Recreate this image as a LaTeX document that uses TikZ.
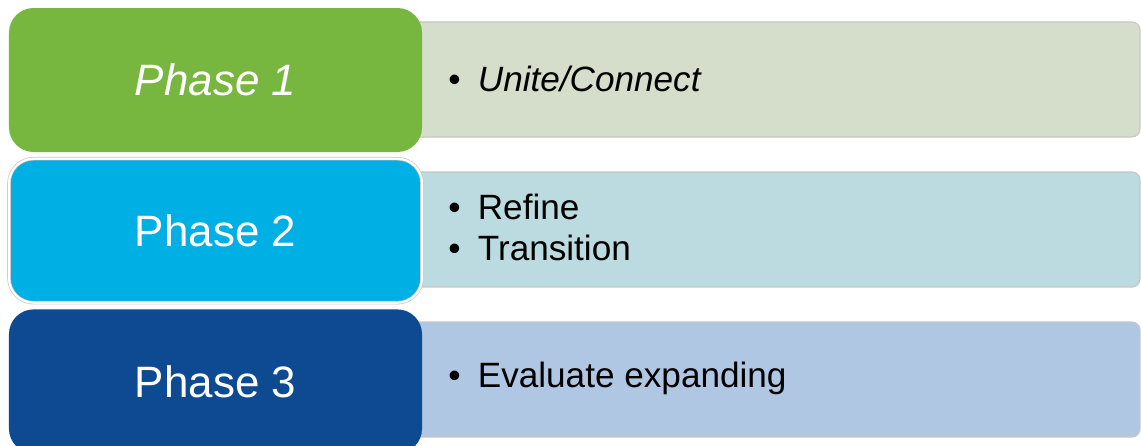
\documentclass[tikz,border=0pt]{standalone}
\usepackage{fontspec}
\setmainfont{Liberation Sans}
\usepackage{xcolor}
\usetikzlibrary{positioning}

\definecolor{phasegreen}{RGB}{120,183,63}
\definecolor{phaseblue}{RGB}{0,175,227}
\definecolor{phasenavy}{RGB}{13,74,145}
\definecolor{panelgreen}{RGB}{213,222,202}
\definecolor{panelteal}{RGB}{187,219,224}
\definecolor{panelblue}{RGB}{176,199,228}

\newcommand{\bul}{\makebox[0.84em][l]{\textbullet}}

\tikzset{
  phase/.style={rounded corners=14pt, minimum width=8.26cm, minimum height=2.88cm, inner sep=0pt, text=white, font=\fontsize{25}{30}\selectfont},
  panel/.style={rounded corners=4.5pt, draw=black!22, line width=0.6pt, minimum width=15.2cm, minimum height=2.3cm, inner sep=0pt},
  item/.style={anchor=west, align=left, inner sep=0pt, font=\fontsize{20}{23.3}\selectfont}
}

\begin{document}
\begin{tikzpicture}
  \useasboundingbox[fill=white] (0,0) rectangle (22.82,-8.92);
  % panels behind the phases
  \node[panel, fill=panelgreen] (panelA) at (15.2,-1.59) {};
  \node[panel, fill=panelteal] (panelB) at (15.2,-4.59) {};
  \node[panel, fill=panelblue] (panelC) at (15.2,-7.59) {};
  % phases
  \node[phase, fill=phasegreen] (phaseA) at (4.31,-1.6) {\itshape Phase 1};
  \node[phase, fill=phaseblue, draw=black!22, double=white, double distance=1.2pt, line width=0.4pt, below=0.12cm of phaseA] (phaseB) {Phase 2};
  \node[phase, fill=phasenavy, below=0.12cm of phaseB] (phaseC) {Phase 3};
  % bullet items
  \node[item] (itemA) at (8.96,-1.57) {\bul\itshape Unite/Connect};
  \node[item] (itemB) at (8.96,-4.55) {\bul Refine\\\bul Transition};
  \node[item] (itemC) at (8.96,-7.57) {\bul Evaluate expanding};
\end{tikzpicture}
\end{document}
